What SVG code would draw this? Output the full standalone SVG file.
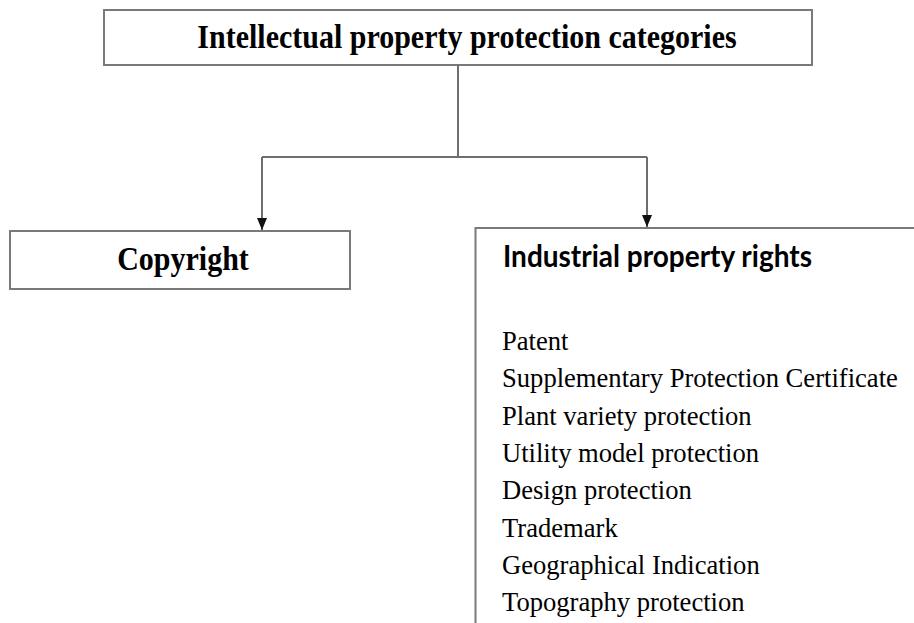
<svg xmlns="http://www.w3.org/2000/svg" width="914" height="623" viewBox="0 0 914 623">
  <style>
    .box { fill: #ffffff; stroke: #7a7a7a; stroke-width: 2; }
    .link { fill: none; stroke: #6e6e6e; stroke-width: 2; }
    .head { font-family: "Liberation Serif", "Times New Roman", serif; font-weight: bold; font-size: 30px; fill: #000; }
    .sub { font-family: Lato, "Liberation Sans", sans-serif; font-weight: bold; font-size: 27px; fill: #000; }
    .item { font-family: "Liberation Serif", "Times New Roman", serif; font-size: 26.6px; fill: #000; }
  </style>
  <defs>
    <marker id="tip" markerUnits="userSpaceOnUse" markerWidth="10" markerHeight="12" viewBox="0 0 10 12" refX="5" refY="12" orient="0">
      <path d="M0,0 L10,0 L5,12 Z" fill="#111"/>
    </marker>
  </defs>

  <!-- root category -->
  <g id="node-root">
    <rect class="box" x="104" y="10" width="708" height="55"/>
    <text class="head" transform="translate(467,48) scale(1,1.15)" text-anchor="middle">Intellectual property protection categories</text>
  </g>

  <!-- left branch -->
  <g id="node-copyright">
    <rect class="box" x="10" y="231" width="340" height="58"/>
    <text class="head" transform="translate(183,270) scale(1,1.15)" text-anchor="middle">Copyright</text>
  </g>

  <!-- right branch, open to the right and bottom -->
  <g id="node-industrial">
    <path class="box" d="M916,228 H475.5 V625"/>
    <text class="sub" transform="translate(503,267) scale(1,1.15)" textLength="309" lengthAdjust="spacingAndGlyphs">Industrial property rights</text>
    <text class="item" x="502" y="350">Patent</text>
    <text class="item" x="502" y="387">Supplementary Protection Certificate</text>
    <text class="item" x="502" y="425">Plant variety protection</text>
    <text class="item" x="502" y="462">Utility model protection</text>
    <text class="item" x="502" y="499">Design protection</text>
    <text class="item" x="502" y="537">Trademark</text>
    <text class="item" x="502" y="574">Geographical Indication</text>
    <text class="item" x="502" y="611">Topography protection</text>
  </g>

  <!-- connectors -->
  <g id="connectors">
    <path class="link" d="M458,65 V157"/>
    <path class="link" d="M262,157 H647"/>
    <path class="link" d="M262,157 V230" marker-end="url(#tip)"/>
    <path class="link" d="M647,157 V227" marker-end="url(#tip)"/>
  </g>
</svg>
